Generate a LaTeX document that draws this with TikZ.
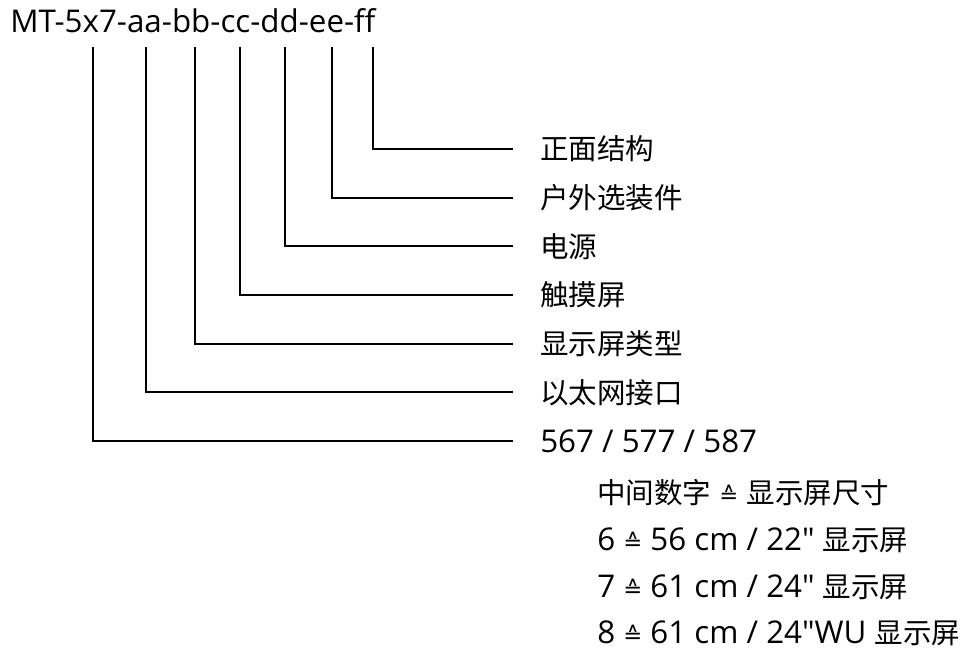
\documentclass[tikz,border=0pt]{standalone}
\usepackage{fontspec}
\setmainfont{Open Sans}
\newfontfamily\plain{Open Sans}
\newfontfamily\symfont{DejaVu Sans}
\newfontfamily\cjk[Scale=0.91]{Noto Sans CJK SC}
\usetikzlibrary{positioning}
\newcommand{\corr}{{\symfont\fontsize{17}{17}\selectfont ≙}}
\newcommand{\inch}{{\plain\symbol{34}}}

\begin{document}
\begin{tikzpicture}[
        x=0.75pt, y=-0.75pt,
        every node/.style={font=\fontsize{23.5}{26}\selectfont, inner sep=0pt},
        lead/.style={draw, line width=1.4pt},
        note/.style={anchor=west}
      ]
      \useasboundingbox (0,0) rectangle (960,654);
      % Type code
      \node[anchor=base west] (code) at (10,32) {MT-5x7-aa-bb-cc-dd-ee-ff};
      % Meaning of each part
      \foreach \i/\txt in {1/{\cjk 正面结构}, 2/{\cjk 户外选装件}, 3/{\cjk 电源},
                           4/{\cjk 触摸屏}, 5/{\cjk 显示屏类型}, 6/{\cjk 以太网接口},
                           7/{567 / 577 / 587}}
        \node[note] (lab\i) at (540,{149+(\i-1)*48.67}) {\txt};
      % Lines from the code down to the labels
      \foreach \i/\x in {1/373, 2/332, 3/285, 4/240, 5/195, 6/146, 7/93}
        \coordinate (top\i) at (\x,47);
      \foreach \i in {1,...,7}
        \draw[lead] (top\i) |- ([xshift=-20pt]lab\i.west);
      % Screen sizes
      \node[note] (size0) at (597,493) {{\cjk 中间数字} \corr{} {\cjk 显示屏尺寸}};
      \node[note] (size1) at (597,540) {6 \corr{} 56 cm / 22\inch{} {\cjk 显示屏}};
      \node[note] (size2) at (597,587) {7 \corr{} 61 cm / 24\inch{} {\cjk 显示屏}};
      \node[note] (size3) at (597,633) {8 \corr{} 61 cm / 24\inch WU {\cjk 显示屏}};

    \end{tikzpicture}
\end{document}
